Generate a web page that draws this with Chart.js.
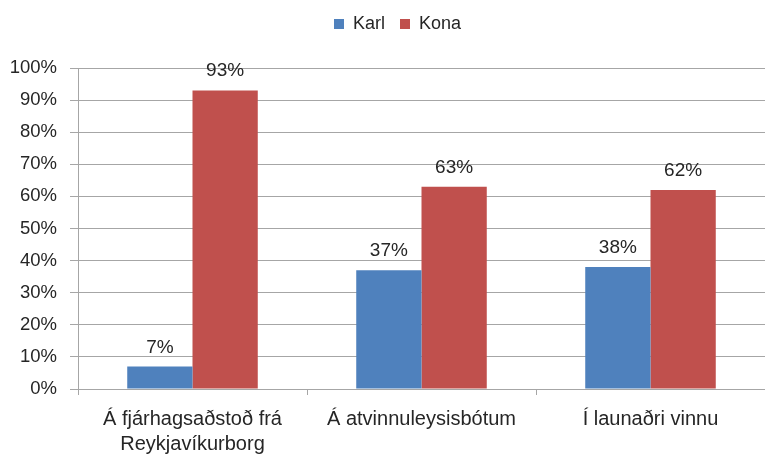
<!DOCTYPE html>
<html><head><meta charset="utf-8">
<script src="https://cdn.jsdelivr.net/npm/chart.js@4"></script>
<style>html,body{margin:0;padding:0;background:#fff}#w{width:765px;height:454px}</style>
</head><body><div id="w"><canvas id="c"></canvas></div>
<script>
const categories = [["Á fjárhagsaðstoð frá","Reykjavíkurborg"], "Á atvinnuleysisbótum", "Í launaðri vinnu"];
const karl = [7, 37, 38];
const kona = [93, 63, 62];
const yTicks = [0,10,20,30,40,50,60,70,80,90,100];

const FONT = "'Liberation Sans', Arial, sans-serif";
const TXT = '#262626';

const dataLabels = {
  id: 'dataLabels',
  afterDatasetsDraw(chart) {
    const ctx = chart.ctx;
    ctx.save();
    ctx.font = '19px ' + FONT;
    ctx.fillStyle = TXT;
    ctx.textAlign = 'center';
    ctx.textBaseline = 'alphabetic';
    chart.data.datasets.forEach((ds, i) => {
      chart.getDatasetMeta(i).data.forEach((el, j) => {
        ctx.fillText(ds.data[j] + '%', el.x, el.y - 14);
      });
    });
    ctx.restore();
  }
};

const legendSpace = {
  id: 'legendSpace',
  beforeInit(chart) {
    const orig = chart.legend.fit;
    chart.legend.fit = function () {
      orig.bind(chart.legend)();
      this.height += 25;
    };
  },
  afterLayout(chart) {
    chart.legend.left += 30;
  }
};

new Chart(document.getElementById('c'), {
  type: 'bar',
  data: {
    labels: categories,
    datasets: [
      { label: 'Karl', data: karl, backgroundColor: '#4F81BD' },
      { label: 'Kona', data: kona, backgroundColor: '#C0504D' }
    ]
  },
  options: {
    responsive: true, maintainAspectRatio: false, animation: false,
    layout: { padding: { top: 0, right: 0, left: 0, bottom: 0 } },
    datasets: { bar: { categoryPercentage: 0.57, barPercentage: 1.0 } },
    plugins: {
      legend: {
        position: 'top',
        labels: { font: { size: 18, family: FONT }, color: TXT, boxWidth: 10, boxHeight: 10, padding: 15 }
      },
      tooltip: { enabled: false }
    },
    scales: {
      x: {
        afterFit: s => { s.height = 65; },
        grid: { display: true, drawOnChartArea: false, color: '#A6A6A6', tickLength: 6, offset: true },
        border: { color: '#A6A6A6' },
        ticks: { font: { size: 20, family: FONT, lineHeight: 1.25 }, color: TXT, maxRotation: 0, autoSkip: false, padding: 12 }
      },
      y: {
        min: 0, max: 100,
        afterFit: s => { s.width = 78; },
        afterBuildTicks: s => { s.ticks = yTicks.map(v => ({ value: v })); },
        grid: { color: '#A6A6A6', tickLength: 8 },
        border: { color: '#A6A6A6' },
        ticks: { font: { size: 18.5, family: FONT }, color: TXT, padding: 13, callback: v => v + '%' }
      }
    }
  },
  plugins: [dataLabels, legendSpace]
});
</script></body></html>
